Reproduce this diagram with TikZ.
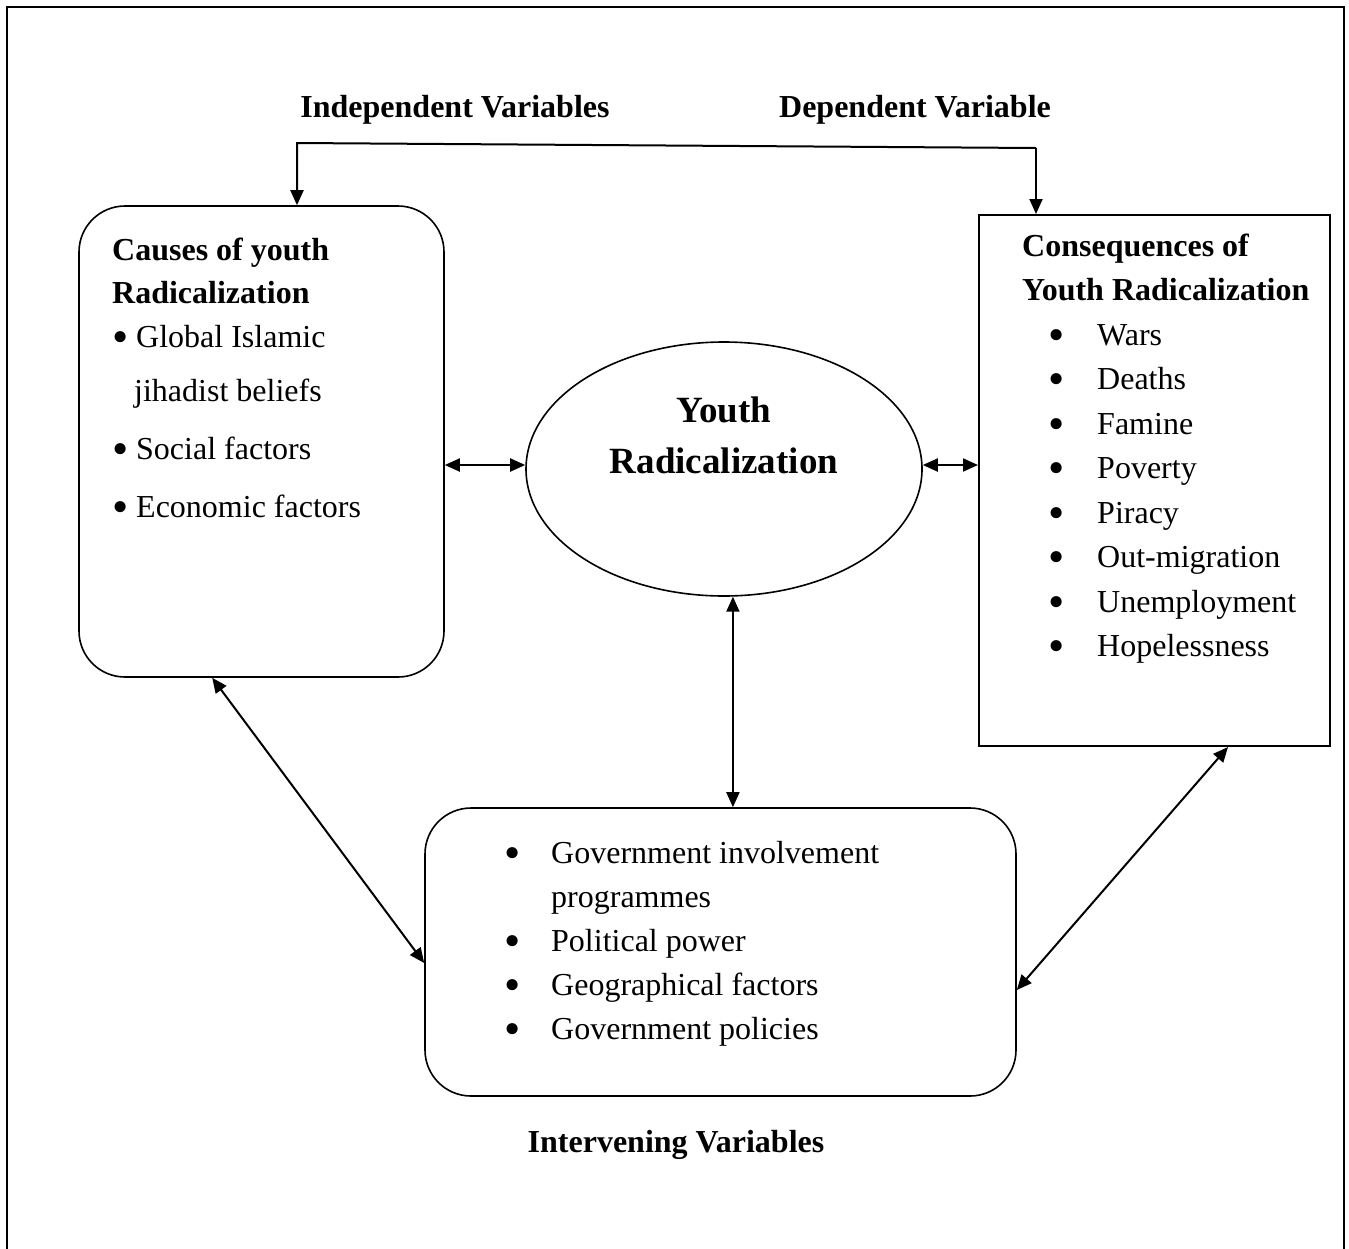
\documentclass[tikz,border=0pt]{standalone}
\usepackage{fontspec}
\usepackage{graphicx}
\setmainfont{Liberation Serif}
\usetikzlibrary{arrows.meta,shapes.geometric,calc}
\tikzstyle{roundbox} = [draw, line width=1.6pt, rectangle, rounded corners=46pt]
\tikzstyle{plainbox} = [draw, line width=2pt, rectangle]
\tikzstyle{bodytext} = [anchor=north west, align=left, font=\fontsize{32}{44.5}\selectfont]
\tikzstyle{headtext} = [font=\fontsize{32}{38}\selectfont\bfseries]
\tikzstyle{dbl} = [{Triangle[length=15pt,width=13pt]}-{Triangle[length=15pt,width=13pt]}, line width=2pt]
\tikzstyle{sgl} = [-{Triangle[length=15pt,width=13pt]}, line width=2pt]
\newcommand{\bigdot}{\raisebox{-5pt}{\scalebox{1.45}{\textbullet}}}
\newcommand{\rdot}{\hspace*{26pt}\makebox[49pt][l]{\bigdot}}
\newcommand{\bdot}{\makebox[47pt][l]{\bigdot}}
\newcommand{\ldot}{\makebox[24pt][l]{\bigdot}}

\begin{document}
\begin{tikzpicture}[x=1pt,y=-1pt,every node/.style={inner sep=0pt}]
\useasboundingbox (0,0) rectangle (1349,1248);
\draw [line width=2.5pt] (7,1260) -- (7,7) -- (1344,7) -- (1344,1260);
\node [headtext] (indep) at (455,110) {Independent Variables};
\node [headtext] (dep) at (915,110) {Dependent Variable};
\node [roundbox, minimum width=365pt, minimum height=471pt] (causes) at (261.5,441.5) {};
\node [bodytext, font=\fontsize{32}{43.5}\selectfont] (causestext) at (112,229.5) {\strut\textbf{Causes of youth}\\\textbf{Radicalization}\\\ldot Global Islamic\\[11pt]\hspace*{22pt}jihadist beliefs\\[14pt]\ldot Social factors\\[15pt]\ldot Economic factors};
\node [plainbox, minimum width=351pt, minimum height=531pt] (cons) at (1154.5,480.5) {};
\node [bodytext] (constext) at (1022,225) {\strut\textbf{Consequences of}\\\textbf{Youth Radicalization}\\\rdot Wars\\\rdot Deaths\\\rdot Famine\\\rdot Poverty\\\rdot Piracy\\\rdot Out-migration\\\rdot Unemployment\\\rdot Hopelessness};
\node [ellipse, draw, line width=1.6pt, minimum width=396pt, minimum height=254pt] (yr) at (724,469) {};
\node [anchor=north, align=center, font=\fontsize{37}{51}\selectfont\bfseries] (yrtext) at (724,387) {\strut Youth\\Radicalization};
\node [roundbox, minimum width=591pt, minimum height=288pt] (interv) at (720.5,952) {};
\node [bodytext, font=\fontsize{32}{44}\selectfont] (intervtext) at (504,832) {\strut\bdot Government involvement\\\hspace*{47pt}programmes\\\bdot Political power\\\bdot Geographical factors\\\bdot Government policies};
\node [headtext] (intlab) at (676,1145) {Intervening Variables};
\coordinate (tl) at (297,143);
\coordinate (tr) at (1036,148);
\coordinate (midrow) at (724,465);
\draw [sgl] (tr) -- (tl) -- (tl |- causes.north);
\draw [sgl] (tr) -- (tr |- cons.north);
\draw [dbl] (causes.east |- midrow) -- (yr.west |- midrow);
\draw [dbl] (yr.east |- midrow) -- (cons.west |- midrow);
\draw [dbl] (yr.274) -- (yr.274 |- interv.north);
\draw [dbl] ($(causes.south west)+(134,0)$) -- ($(interv.west)+(0,11)$);
\draw [dbl] ($(cons.south west)+(250,0)$) -- ($(interv.east)+(0,38)$);
\end{tikzpicture}
\end{document}
